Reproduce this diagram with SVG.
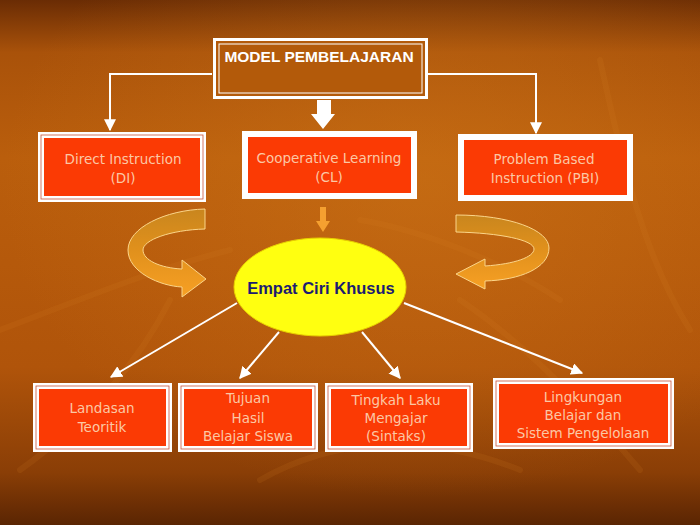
<svg xmlns="http://www.w3.org/2000/svg" width="700" height="525" viewBox="0 0 700 525">
<defs>
<linearGradient id="bg" x1="0" y1="0" x2="0" y2="1">
<stop offset="0" stop-color="#6a2c04"/>
<stop offset="0.1" stop-color="#a9520a"/>
<stop offset="0.3" stop-color="#ba5e0c"/>
<stop offset="0.7" stop-color="#b0540a"/>
<stop offset="0.9" stop-color="#8a3e06"/>
<stop offset="1" stop-color="#5a2503"/>
</linearGradient>
<radialGradient id="glow" cx="0.6" cy="0.35" r="0.6">
<stop offset="0" stop-color="#d27a1a" stop-opacity="0.45"/>
<stop offset="1" stop-color="#d27a1a" stop-opacity="0"/>
</radialGradient>
<linearGradient id="ribbonL" x1="0" y1="0" x2="0" y2="1">
<stop offset="0" stop-color="#c9861e"/>
<stop offset="0.45" stop-color="#e0901c"/>
<stop offset="1" stop-color="#f7a024"/>
</linearGradient>
<marker id="ah" viewBox="0 0 10 10" refX="9" refY="5" markerWidth="6" markerHeight="6" orient="auto">
<path d="M0 0 L10 5 L0 10 Z" fill="#ffffff"/>
</marker>
<style>
.frame{fill:#ffffff}
.inner{fill:#fb3a04}
.line2{fill:none;stroke:#c8553a;stroke-width:0.8}
.lbl{font-family:"DejaVu Sans",sans-serif;font-size:13.5px;fill:#fbc8a4;text-anchor:middle}
.conn{fill:none;stroke:#ffffff;stroke-width:2}
.leaf{fill:none;stroke:#d9802a;stroke-opacity:0.13;stroke-width:6;stroke-linecap:round}
.ribbon{fill:url(#ribbonL);stroke:#fbd58a;stroke-width:1}
</style>
</defs>
<rect x="0" y="0" width="700" height="525" fill="url(#bg)"/>
<rect x="0" y="0" width="700" height="525" fill="url(#glow)"/>
<g id="texture">
<path class="leaf" d="M0 330 C 80 300 150 270 230 250"/>
<path class="leaf" d="M20 470 C 90 420 140 360 170 300"/>
<path class="leaf" d="M600 60 C 620 150 640 250 690 330"/>
<path class="leaf" d="M460 300 C 520 340 580 400 640 470"/>
<path class="leaf" d="M260 480 C 330 440 420 430 520 470"/>
<path class="leaf" d="M360 220 C 420 230 500 260 560 300"/>
</g>

<g id="connectors">
<polyline class="conn" points="212,74 110,74 110,130" marker-end="url(#ah)"/>
<polyline class="conn" points="428,74 536,74 536,133" marker-end="url(#ah)"/>
<path d="M317 100 L331 100 L331 114 L335 114 L323 129 L311 114 L317 114 Z" fill="#ffffff"/>
<path d="M320 207 L326 207 L326 221 L330 221 L323 232 L316 221 L320 221 Z" fill="#f5a030"/>
<path class="ribbon" d="M205 209 C 165 210 128 228 128 250 C 128 272 160 286 182 287 L 182 297 L 206 279 L 182 260 L 182 269 C 160 268 143 260 143 250 C 143 240 170 230 205 229 Z"/>
<path class="ribbon" d="M456 215 C 510 215 549 230 549 248 C 549 268 520 280 485 281 L 485 289 L 456 274 L 485 259 L 485 266 C 515 264 534 257 534 249 C 534 240 500 233 456 232 Z"/>
<line class="conn" x1="237" y1="303" x2="111" y2="377" marker-end="url(#ah)"/>
<line class="conn" x1="279" y1="332" x2="240" y2="378" marker-end="url(#ah)"/>
<line class="conn" x1="362" y1="332" x2="400" y2="378" marker-end="url(#ah)"/>
<line class="conn" x1="404" y1="303" x2="582" y2="373" marker-end="url(#ah)"/>
</g>

<g id="model">
<rect x="214.5" y="39.5" width="212" height="58" fill="#b35a0a" stroke="#ffffff" stroke-width="3"/>
<rect x="219" y="44" width="203" height="49" fill="none" stroke="#ffffff" stroke-width="1"/>
<text x="319" y="62" font-family="'Liberation Sans',sans-serif" font-size="15.5" font-weight="bold" fill="#ffffff" text-anchor="middle">MODEL PEMBELAJARAN</text>
</g>

<g id="di">
<rect class="frame" x="38" y="132" width="168" height="70"/>
<rect class="line2" x="41" y="135" width="162" height="64"/>
<rect class="inner" x="44" y="138" width="156" height="58"/>
<text class="lbl" x="123" y="164">Direct Instruction</text>
<text class="lbl" x="123" y="183">(DI)</text>
</g>

<g id="cl">
<rect class="frame" x="242" y="131" width="175" height="68"/>
<rect class="inner" x="248" y="137" width="163" height="56"/>
<text class="lbl" x="329" y="163">Cooperative Learning</text>
<text class="lbl" x="329" y="182">(CL)</text>
</g>

<g id="pbi">
<rect class="frame" x="458" y="134" width="175" height="67"/>
<rect class="inner" x="464" y="140" width="163" height="55"/>
<text class="lbl" x="544" y="164">Problem Based</text>
<text class="lbl" x="545" y="183">Instruction (PBI)</text>
</g>

<g id="empat">
<ellipse cx="320" cy="287" rx="86" ry="49" fill="#ffff10" stroke="#e8d000" stroke-width="1"/>
<text x="321" y="294" font-family="'Liberation Sans',sans-serif" font-size="16.5" font-weight="bold" fill="#1c1c70" text-anchor="middle">Empat Ciri Khusus</text>
</g>

<g id="landasan">
<rect class="frame" x="33" y="383" width="139" height="69"/>
<rect class="line2" x="36" y="386" width="133" height="63"/>
<rect class="inner" x="39" y="389" width="127" height="57"/>
<text class="lbl" x="102" y="413">Landasan</text>
<text class="lbl" x="102" y="432">Teoritik</text>
</g>

<g id="tujuan">
<rect class="frame" x="178" y="383" width="140" height="69"/>
<rect class="line2" x="181" y="386" width="134" height="63"/>
<rect class="inner" x="184" y="389" width="128" height="57"/>
<text class="lbl" x="248" y="403">Tujuan</text>
<text class="lbl" x="248" y="423">Hasil</text>
<text class="lbl" x="248" y="441">Belajar Siswa</text>
</g>

<g id="tingkah">
<rect class="frame" x="325" y="383" width="148" height="69"/>
<rect class="line2" x="328" y="386" width="142" height="63"/>
<rect class="inner" x="331" y="389" width="136" height="57"/>
<text class="lbl" x="396" y="405">Tingkah Laku</text>
<text class="lbl" x="396" y="423">Mengajar</text>
<text class="lbl" x="396" y="441">(Sintaks)</text>
</g>

<g id="lingkungan">
<rect class="frame" x="493" y="378" width="181" height="71"/>
<rect class="line2" x="496" y="381" width="175" height="65"/>
<rect class="inner" x="499" y="384" width="169" height="59"/>
<text class="lbl" x="583" y="402">Lingkungan</text>
<text class="lbl" x="583" y="420">Belajar dan</text>
<text class="lbl" x="583" y="438">Sistem Pengelolaan</text>
</g>
</svg>
